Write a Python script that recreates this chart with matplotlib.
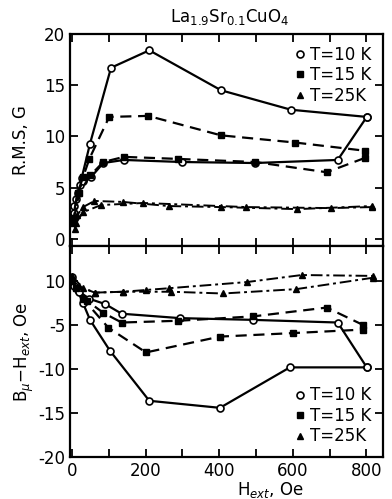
import matplotlib
matplotlib.use("Agg")
import matplotlib.pyplot as plt

# upper panel: R.M.S. field, G  (field up / field down branches)
h10_up = [3, 6, 12, 22, 26, 49, 106, 210, 405, 595, 801]
r10_up = [2.0, 3.2, 3.9, 5.3, 5.9, 9.3, 16.7, 18.4, 14.5, 12.6, 11.9]
h10_dn = [801, 722, 497, 298, 141, 85, 51, 30, 15, 5]
r10_dn = [11.9, 7.7, 7.4, 7.5, 7.7, 7.4, 6.0, 5.6, 4.5, 2.5]

h15_up = [3, 15, 30, 47, 101, 207, 405, 606, 796]
r15_up = [1.5, 4.5, 6.0, 7.8, 11.9, 12.0, 10.1, 9.4, 8.6]
h15_dn = [796, 692, 497, 289, 141, 85, 50, 20, 5]
r15_dn = [7.9, 6.5, 7.5, 7.8, 8.0, 7.5, 6.2, 4.5, 2.0]

h25_up = [8, 14, 30, 61, 139, 263, 405, 612, 814]
r25_up = [1.0, 2.3, 3.1, 3.7, 3.6, 3.2, 3.1, 2.9, 3.2]
h25_dn = [814, 703, 473, 194, 79, 30, 10]
r25_dn = [3.1, 3.0, 3.1, 3.5, 3.3, 2.6, 1.5]

# lower panel: B_mu - H_ext, Oe
hb10_up = [0, 15, 30, 49, 103, 210, 402, 592, 801]
b10_up = [0.5, -1.0, -2.5, -4.4, -7.9, -13.6, -14.4, -9.8, -9.8]
hb10_dn = [801, 722, 493, 293, 135, 90, 47, 20, 5]
b10_dn = [-9.8, -4.7, -4.4, -4.2, -3.7, -2.6, -2.0, -1.2, -0.5]

hb15_up = [0, 30, 99, 201, 402, 601, 792]
b15_up = [0.0, -2.0, -5.3, -8.1, -6.3, -5.9, -5.5]
hb15_dn = [792, 692, 493, 289, 135, 85, 40, 10]
b15_dn = [-5.0, -3.0, -4.0, -4.5, -4.7, -3.6, -2.2, -0.8]

hb25_up = [0, 30, 62, 139, 201, 264, 475, 624, 819]
b25_up = [0.6, -0.8, -1.3, -1.2, -1.0, -0.8, -0.1, 0.7, 0.6]
hb25_dn = [819, 610, 410, 270, 139, 62, 20]
b25_dn = [0.4, -0.9, -1.4, -1.2, -1.2, -1.3, -0.6]

labels = ["T=10 K", "T=15 K", "T=25K"]
lower_yticks = [0, -5, -10, -15, -20]
lower_yticklabels = ["10", "-5", "-10", "-15", "-20"]

plt.rcParams["font.family"] = "DejaVu Sans"
plt.rcParams["font.size"] = 12

fig = plt.figure(figsize=(3.92, 4.99), dpi=100)
ax1 = fig.add_axes([0.179, 0.507, 0.798, 0.425])
ax2 = fig.add_axes([0.179, 0.084, 0.798, 0.423])

sty10 = dict(color="k", lw=1.6, ls="-", marker="o", mfc="white", ms=5, mew=1.2)
sty15 = dict(color="k", lw=1.6, ls=(0, (5, 3)), marker="s", ms=4.5)
sty25 = dict(color="k", lw=1.4, ls=(0, (6, 2, 1.5, 2)), marker="^", ms=5)

ax1.plot(h10_up, r10_up, label=labels[0], **sty10)
ax1.plot(h10_dn, r10_dn, **sty10)
ax1.plot(h15_up, r15_up, label=labels[1], **sty15)
ax1.plot(h15_dn, r15_dn, **sty15)
ax1.plot(h25_up, r25_up, label=labels[2], **sty25)
ax1.plot(h25_dn, r25_dn, **sty25)

ax2.plot(hb10_up, b10_up, label=labels[0], **sty10)
ax2.plot(hb10_dn, b10_dn, **sty10)
ax2.plot(hb15_up, b15_up, label=labels[1], **sty15)
ax2.plot(hb15_dn, b15_dn, **sty15)
ax2.plot(hb25_up, b25_up, label=labels[2], **sty25)
ax2.plot(hb25_dn, b25_dn, **sty25)

for ax in (ax1, ax2):
    ax.set_xlim(-5, 845)
    ax.set_xticks([0, 200, 400, 600, 800])
    ax.set_xticks(range(100, 900, 100), minor=True)
    ax.tick_params(which="both", direction="in", top=True, right=True,
                   width=1.3, length=6)
    for s in ax.spines.values():
        s.set_linewidth(1.6)
    ax.legend(frameon=False, handlelength=0.6, handletextpad=0.3,
              labelspacing=0.15, borderaxespad=0.3, fontsize=12,
              loc="upper right" if ax is ax1 else "lower right")
    for line in ax.get_legend().get_lines():
        line.set_linestyle("none")

ax1.set_ylim(-0.7, 20)
ax1.set_yticks([0, 5, 10, 15, 20])
ax1.tick_params(axis="x", labelbottom=False)
ax1.set_ylabel("R.M.S, G", labelpad=10)

ax2.set_ylim(-20, 4)
ax2.set_yticks(lower_yticks)
ax2.set_yticklabels(lower_yticklabels)
ax2.set_ylabel(r"B$_\mu$$-$H$_{ext}$, Oe", labelpad=2)
ax2.set_xlabel(r"H$_{ext}$, Oe", labelpad=1)
ax2.xaxis.set_label_coords(0.64, -0.11)

fig.text(0.587, 0.965, r"La$_{1.9}$Sr$_{0.1}$CuO$_4$", ha="center",
         va="center", fontsize=12)

fig.savefig("out.png", dpi=100)
